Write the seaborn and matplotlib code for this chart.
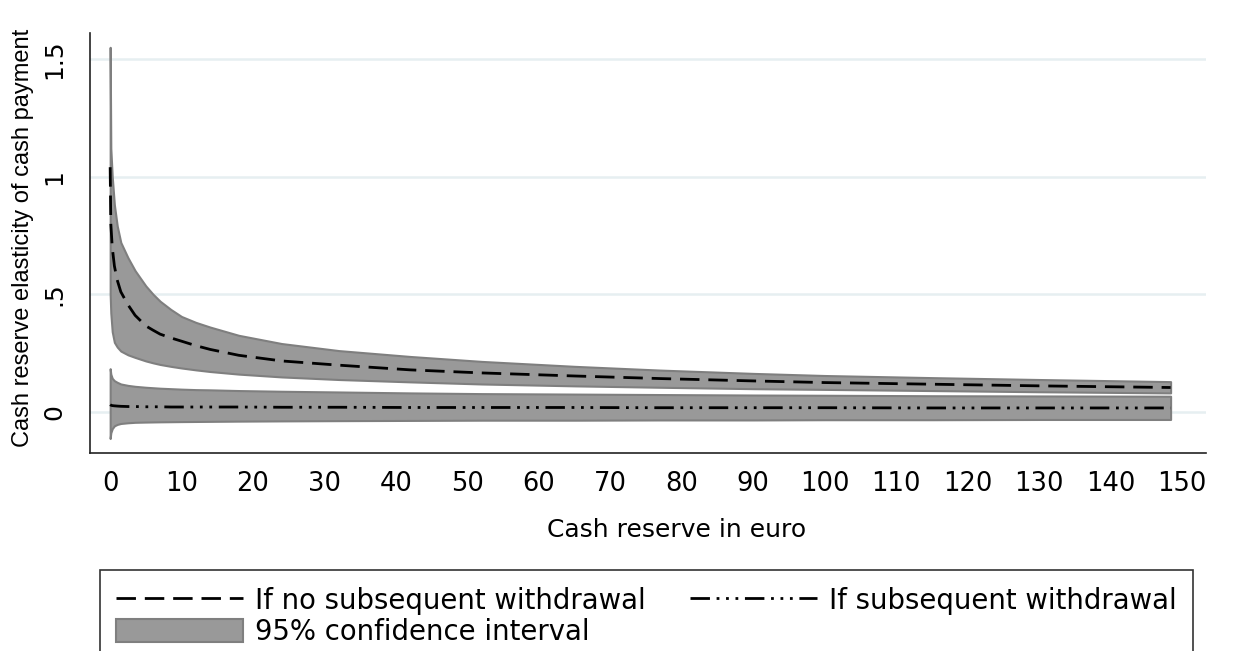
import numpy as np
import pandas as pd
import matplotlib
matplotlib.use("Agg")
import matplotlib.pyplot as plt
from matplotlib import font_manager
from matplotlib.patches import Patch
from matplotlib.lines import Line2D
import seaborn as sns

# cash reserve (euro)
reserve = [0.01, 0.1, 0.3, 0.6, 1, 1.5, 2.5, 3.5, 5, 6, 7, 8.5, 10, 12, 14, 18, 24, 32,
           42, 52, 65, 77, 90, 100, 115, 130, 148.4]

# if no subsequent withdrawal: estimate and 95% CI
no_wd = [1.04, 0.80, 0.70, 0.62, 0.56, 0.51, 0.455, 0.41, 0.365, 0.347, 0.33, 0.314,
         0.30, 0.281, 0.265, 0.24, 0.216, 0.198, 0.178, 0.165, 0.152, 0.141, 0.131,
         0.124, 0.117, 0.11, 0.103]
no_wd_hi = [1.55, 1.12, 1.0, 0.88, 0.79, 0.72, 0.655, 0.60, 0.535, 0.50, 0.47, 0.435,
            0.405, 0.38, 0.36, 0.325, 0.29, 0.26, 0.235, 0.214, 0.193, 0.177, 0.163,
            0.154, 0.145, 0.137, 0.128]
no_wd_lo = [0.50, 0.42, 0.34, 0.295, 0.275, 0.258, 0.242, 0.231, 0.216, 0.208, 0.201,
            0.193, 0.186, 0.178, 0.171, 0.16, 0.148, 0.137, 0.127, 0.118, 0.11, 0.104,
            0.098, 0.095, 0.09, 0.085, 0.08]

# if subsequent withdrawal: estimate and 95% CI
wd = [0.03, 0.028, 0.026, 0.025, 0.024, 0.023, 0.022, 0.022, 0.021, 0.021, 0.021, 0.02,
      0.02, 0.02, 0.02, 0.02, 0.019, 0.019, 0.018, 0.018, 0.018, 0.017, 0.017, 0.017,
      0.016, 0.016, 0.016]
wd_hi = [0.183, 0.16, 0.142, 0.132, 0.125, 0.118, 0.112, 0.108, 0.104, 0.102, 0.1, 0.098,
         0.096, 0.094, 0.093, 0.09, 0.087, 0.084, 0.08, 0.077, 0.075, 0.073, 0.071, 0.07,
         0.068, 0.067, 0.066]
wd_lo = [-0.114, -0.09, -0.072, -0.06, -0.054, -0.05, -0.047, -0.045, -0.044, -0.0435,
         -0.043, -0.0425, -0.042, -0.0415, -0.041, -0.04, -0.039, -0.038, -0.037, -0.036,
         -0.036, -0.035, -0.035, -0.034, -0.034, -0.033, -0.033]

df = pd.DataFrame({'reserve': reserve, 'no_wd': no_wd, 'no_wd_hi': no_wd_hi,
                   'no_wd_lo': no_wd_lo, 'wd': wd, 'wd_hi': wd_hi, 'wd_lo': wd_lo})

sns.set_style("white")
plt.rcParams['font.family'] = ['DejaVu Sans']
plt.rcParams['text.color'] = 'black'
plt.rcParams['axes.labelcolor'] = 'black'

# condensed font for the y label if available
names = {f.name for f in font_manager.fontManager.ttflist}
if 'Liberation Sans Narrow' in names:
    ylab_font, ylab_size = 'Liberation Sans Narrow', 21.5
else:
    ylab_font, ylab_size = 'Liberation Sans', 17

fig = plt.figure(figsize=(12.34, 6.51), dpi=100)
ax = fig.add_axes([0.073, 0.304, 0.904, 0.645])

band = '#999999'
edge = '#7f7f7f'
ax.fill_between(df['reserve'], df['no_wd_lo'], df['no_wd_hi'], facecolor=band,
                edgecolor=edge, linewidth=1.5, zorder=2)
ax.fill_between(df['reserve'], df['wd_lo'], df['wd_hi'], facecolor=band,
                edgecolor=edge, linewidth=1.5, zorder=2)

dash1 = [7, 3.2]
dash2 = [7, 2.4, 1.0, 2.4, 1.0, 2.4, 1.0, 2.4]
sns.lineplot(data=df, x='reserve', y='no_wd', ax=ax, color='black', lw=2.0, zorder=3)
sns.lineplot(data=df, x='reserve', y='wd', ax=ax, color='black', lw=2.0, zorder=3)
ax.lines[0].set_dashes(dash1)
ax.lines[1].set_dashes(dash2)

ax.set_xlim(-2.8, 153.3)
ax.set_ylim(-0.176, 1.61)
ax.set_xticks(range(0, 151, 10))
ax.set_yticks([0, 0.5, 1, 1.5])
ax.set_yticklabels(['0', '.5', '1', '1.5'], rotation=90, va='center')
ax.grid(axis='y', color='#e6eff1', lw=1.8)
ax.set_axisbelow(True)
for s in ['top', 'right']:
    ax.spines[s].set_visible(False)
for s in ['left', 'bottom']:
    ax.spines[s].set_color('#222222')
    ax.spines[s].set_linewidth(1.2)
ax.tick_params(axis='x', length=8, width=1.2, color='#222222', labelsize=18.5, pad=5,
               labelcolor='black')
ax.tick_params(axis='y', length=12, width=1.2, color='#222222', labelsize=18, pad=5,
               labelcolor='black')

ax.set_xlabel('Cash reserve in euro', fontsize=18)
ax.xaxis.set_label_coords(0.5256, -0.155)
ax.set_ylabel('Cash reserve elasticity of cash payment', fontsize=ylab_size,
              family=ylab_font)
ax.yaxis.set_label_coords(-0.05, 0.513)

handles = [Line2D([], [], color='black', lw=2.0, dashes=dash1),
           Patch(facecolor=band, edgecolor=edge, lw=1.5),
           Line2D([], [], color='black', lw=2.0, dashes=dash2)]
labels = ['If no subsequent withdrawal', '95% confidence interval', 'If subsequent withdrawal']
leg = fig.legend(handles, labels, loc='upper left', ncol=2,
                 bbox_to_anchor=(0.081, 0.1244), fontsize=19.8,
                 frameon=True, fancybox=False, edgecolor='black', handlelength=4.6,
                 handleheight=0.95, handletextpad=0.45, labelspacing=0.12,
                 borderpad=0.6, borderaxespad=0, columnspacing=1.6)
leg.get_frame().set_linewidth(1.2)

fig.savefig('out.png', dpi=100)
